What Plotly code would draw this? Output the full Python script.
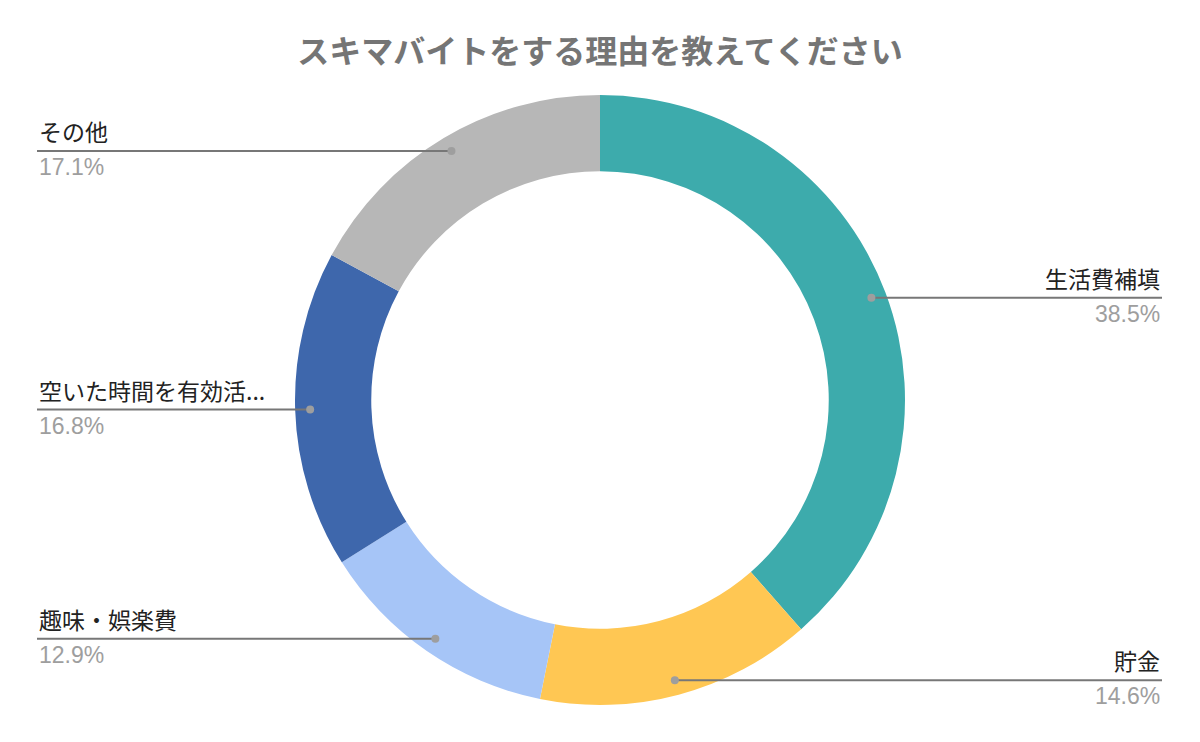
import math
import plotly.graph_objects as go

# data
labels = ["生活費補填", "貯金", "趣味・娯楽費", "空いた時間を有効活用", "その他"]
shown_labels = ["生活費補填", "貯金", "趣味・娯楽費", "空いた時間を有効活...", "その他"]
values = [38.5, 14.6, 12.9, 16.8, 17.1]
colors = ["#3DABAC", "#FFC753", "#A6C5F7", "#3E67AC", "#B7B7B7"]

# page body has an 8px margin, so the figure is 16px smaller than the window
OFF = 8
W, H = 1200 - 2 * OFF, 742 - 2 * OFF
cx, cy = 600 - OFF, 400 - OFF   # pie centre in px (figure coords)
R = 305                          # outer radius in px
dot_r = 290                      # where the leader dots sit

px = lambda x: x / W
py = lambda y: 1 - y / H

fig = go.Figure()
fig.add_trace(go.Pie(
    labels=labels,
    values=values,
    hole=0.75,
    sort=False,
    direction="clockwise",
    rotation=0,
    marker=dict(colors=colors, line=dict(width=0)),
    textinfo="none",
    hoverinfo="label+percent",
    domain=dict(x=[0, 1], y=[(H - cy - R) / H, (H - cy + R) / H]),
    showlegend=False,
))

# leader lines, dots and labels
total = sum(values)
cum = 0
for lab, v in zip(shown_labels, values):
    mid = (cum + v / 2) / total * 2 * math.pi
    cum += v
    dx = cx + dot_r * math.sin(mid)
    dy = cy - dot_r * math.cos(mid)
    left = dx < cx
    ex = 37 - OFF if left else 1162 - OFF
    fig.add_shape(type="line", xref="paper", yref="paper",
                  x0=px(dx), y0=py(dy), x1=px(ex), y1=py(dy),
                  line=dict(color="#777777", width=2))
    fig.add_shape(type="circle", xref="paper", yref="paper",
                  x0=px(dx - 4), x1=px(dx + 4), y0=py(dy - 4), y1=py(dy + 4),
                  fillcolor="#9E9E9E", line=dict(width=0))
    anchor = "left" if left else "right"
    fig.add_annotation(x=px(ex), y=py(dy - 1), xref="paper", yref="paper",
                       text=lab, showarrow=False, xanchor=anchor, yanchor="bottom",
                       font=dict(size=23, color="#222222",
                                 family="'Noto Sans CJK JP', sans-serif"))
    fig.add_annotation(x=px(ex), y=py(dy + 1), xref="paper", yref="paper",
                       text=f"{v:.1f}%", showarrow=False, xanchor=anchor, yanchor="top",
                       font=dict(size=23, color="#9E9E9E",
                                 family="'Liberation Sans', Arial, sans-serif"))

fig.update_layout(
    width=W, height=H,
    margin=dict(l=0, r=0, t=0, b=0),
    paper_bgcolor="white",
    title=dict(text="スキマバイトをする理由を教えてください",
               x=0.5, xanchor="center", y=py(52 - OFF), yanchor="middle",
               font=dict(size=32, color="#757575", weight="bold",
                         family="'Noto Sans CJK JP', sans-serif")),
)

fig.write_html("out.html")
